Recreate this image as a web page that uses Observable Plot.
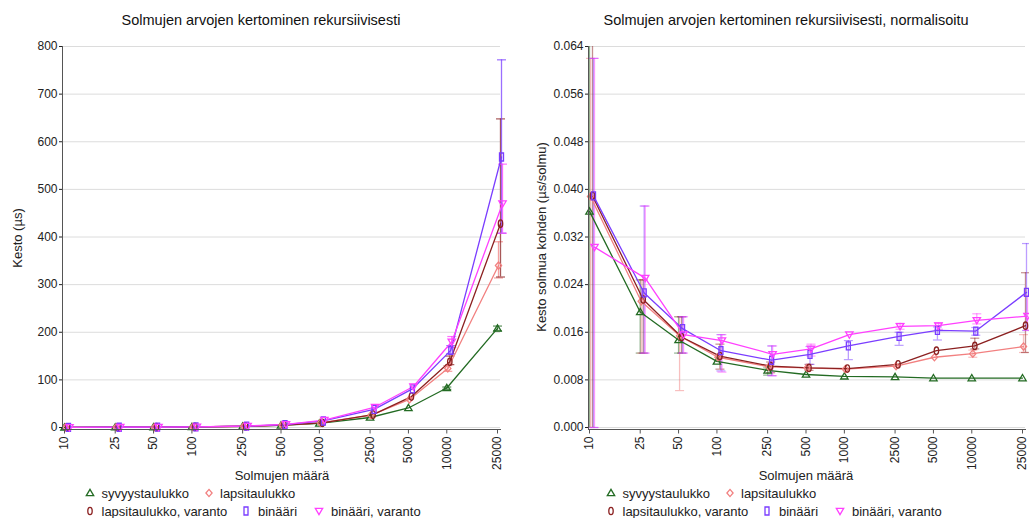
<!DOCTYPE html>
<html><head><meta charset="utf-8">
<script src="https://cdn.jsdelivr.net/npm/d3@7"></script>
<script src="https://cdn.jsdelivr.net/npm/@observablehq/plot@0.6"></script>
<style>
body{margin:0;background:#fff;font-family:"Liberation Sans",Arial,sans-serif;}
#wrap{position:relative;width:1029px;height:518px;overflow:hidden;background:#fff;}
.abs{position:absolute;white-space:nowrap;line-height:1;}
.title{font-size:14.5px;color:#111;transform:translate(-50%,-50%);}
.xlab{font-size:13px;color:#222;transform:translate(-50%,-50%);}
.ylab{font-size:13px;color:#222;transform:translate(-50%,-50%) rotate(-90deg);}
.legtxt{font-size:13px;color:#222;transform:translateY(-50%);}
.legsym{transform:translate(-50%,-50%);}
svg.plot{position:absolute;top:0;}
</style></head><body><div id="wrap"></div>
<script>
// ---------- data ----------
const sizes = [10, 25, 50, 100, 250, 500, 1000, 2500, 5000, 10000, 25000];
const sizeLabels = ["10", "25", "50", "100", "250", "500", "1000", "2500", "5000", "10000", "25000"];
const seriesNames = ["syvyystaulukko", "lapsitaulukko", "lapsitaulukko, varanto", "binääri", "binääri, varanto"];

// left chart: duration (µs)
const durSyvyys   = [0.36, 0.49, 0.74, 1.1, 2.4, 4.4, 8.6, 21, 41, 83, 208];
const durLapsi    = [0.39, 0.53, 0.77, 1.2, 2.6, 5.0, 9.8, 26, 59, 124, 340];
const durLapsiVar = [0.39, 0.54, 0.76, 1.2, 2.6, 5.0, 9.9, 27, 65, 138, 428];
const durBinaari  = [0.39, 0.57, 0.83, 1.3, 2.8, 6.2, 13.7, 38, 81, 162, 568];
const durBinVar   = [0.30, 0.63, 0.78, 1.5, 3.1, 6.6, 15.6, 43, 86, 180, 470];

const durSyvyysLo   = [null, null, null, null, null, null, null, null, null, 80, 203];
const durSyvyysHi   = [null, null, null, null, null, null, null, null, null, 85, 213];
const durLapsiLo    = [null, null, null, null, null, null, null, null, null, 118, 314];
const durLapsiHi    = [null, null, null, null, null, null, null, null, null, 130, 390];
const durLapsiVarLo = [null, null, null, null, null, null, null, null, null, 132, 316];
const durLapsiVarHi = [null, null, null, null, null, null, null, null, null, 150, 648];
const durBinaariLo  = [null, null, null, null, null, null, null, null, null, 155, 408];
const durBinaariHi  = [null, null, null, null, null, null, null, null, null, 172, 772];
const durBinVarLo   = [null, null, null, null, null, null, null, null, null, 168, 408];
const durBinVarHi   = [null, null, null, null, null, null, null, null, null, 191, 553];

// right chart: duration per node (µs/solmu)
const normSyvyys   = [0.0363, 0.0194, 0.0147, 0.0111, 0.0096, 0.0089, 0.0086, 0.0085, 0.0083, 0.0083, 0.0083];
const normLapsi    = [0.0388, 0.0212, 0.0154, 0.0118, 0.0102, 0.0100, 0.0098, 0.0103, 0.0118, 0.0124, 0.0136];
const normLapsiVar = [0.0389, 0.0215, 0.0152, 0.0120, 0.0103, 0.0100, 0.0099, 0.0106, 0.0129, 0.0137, 0.0171];
const normBinaari  = [0.0389, 0.0226, 0.0166, 0.0129, 0.0113, 0.0123, 0.0137, 0.0153, 0.0163, 0.0162, 0.0227];
const normBinVar   = [0.0303, 0.0251, 0.0156, 0.0146, 0.0123, 0.0132, 0.0156, 0.0170, 0.0171, 0.0180, 0.0187];

const normSyvyysLo   = [-0.01, 0.0125, 0.0125, null, 0.0088, null, null, null, null, null, null];
const normSyvyysHi   = [0.08, 0.0248, 0.0186, null, 0.0100, null, null, null, null, null, null];
const normLapsiLo    = [0.0, 0.0125, 0.0062, null, null, null, null, null, null, 0.0118, 0.0126];
const normLapsiHi    = [0.062, 0.0248, 0.0186, null, null, null, null, null, null, 0.0130, 0.0156];
const normLapsiVarLo = [-0.01, 0.0125, 0.0125, 0.0098, 0.0092, 0.0096, null, null, null, 0.0132, 0.0126];
const normLapsiVarHi = [0.08, 0.0248, 0.0186, 0.0140, 0.0110, 0.0106, null, null, null, 0.0150, 0.0260];
const normBinaariLo  = [0.0, 0.0125, 0.0125, 0.0095, 0.0087, 0.0106, 0.0114, 0.0138, 0.0147, 0.0155, 0.0163];
const normBinaariHi  = [0.062, 0.0372, 0.0186, 0.0156, 0.0137, 0.0136, 0.0146, 0.0160, 0.0169, 0.0168, 0.0309];
const normBinVarLo   = [0.0, 0.0125, 0.0125, 0.0093, 0.0087, 0.0120, null, 0.0165, 0.0165, 0.0174, 0.0163];
const normBinVarHi   = [0.062, 0.0372, 0.0186, 0.0156, 0.0137, 0.0140, null, 0.0175, 0.0176, 0.0191, 0.0221];

const leftYTicks  = [0, 100, 200, 300, 400, 500, 600, 700, 800];
const rightYTicks = [0, 0.008, 0.016, 0.024, 0.032, 0.040, 0.048, 0.056, 0.064];

// ---------- styles ----------
const colors = ["#236b23", "#f28080", "#8b2020", "#7a3dff", "#ff40ff"];
const dxs = [0, 1, 3, 4, 5];
const k = 0.5523;
const symbols = [
  {draw(c){c.moveTo(0,-3.6);c.lineTo(3.7,2.7);c.lineTo(-3.7,2.7);c.closePath();}},
  {draw(c){c.moveTo(0,-3.6);c.lineTo(3.1,0);c.lineTo(0,3.6);c.lineTo(-3.1,0);c.closePath();}},
  {draw(c){const rx=2.2, ry=3.7; c.moveTo(0,-ry); c.bezierCurveTo(k*rx,-ry,rx,-k*ry,rx,0); c.bezierCurveTo(rx,k*ry,k*rx,ry,0,ry); c.bezierCurveTo(-k*rx,ry,-rx,k*ry,-rx,0); c.bezierCurveTo(-rx,-k*ry,-k*rx,-ry,0,-ry); c.closePath();}},
  {draw(c){c.rect(-2,-4,4,8);}},
  {draw(c){c.moveTo(0,3.6);c.lineTo(3.7,-2.7);c.lineTo(-3.7,-2.7);c.closePath();}}
];
const capSym = {draw(c){c.moveTo(-4.5,0);c.lineTo(4.5,0);}};
const xTickSym = {draw(c){c.moveTo(0,0);c.lineTo(0,4);}};

function rows(vals) { return sizes.map((n, i) => ({n, v: vals[i]})); }
function errRows(lo, hi) {
  return sizes.map((n, i) => ({n, lo: lo[i], hi: hi[i]})).filter(d => d.lo != null && d.hi != null);
}
const xTickRows = sizes.map((n, i) => ({n, label: sizeLabels[i]}));

function makeChart(cfg) {
  const [y0, y1] = cfg.yDomain;
  const inRange = v => v >= y0 && v <= y1;
  const marks = [
    Plot.gridY(cfg.yTicks, {stroke: "#dcdcdc", strokeOpacity: 1}),
  ];
  cfg.values.forEach((vals, s) => {
    const er = errRows(cfg.lows[s], cfg.highs[s]);
    marks.push(Plot.ruleX(er, {x: "n", y1: "lo", y2: "hi", stroke: colors[s], strokeOpacity: cfg.errOpacity, strokeWidth: 1.3, dx: dxs[s]}));
    marks.push(Plot.dot(er.filter(d => inRange(d.lo)), {x: "n", y: "lo", symbol: capSym, stroke: colors[s], strokeOpacity: cfg.errOpacity, strokeWidth: 1.2, fill: "none", dx: dxs[s]}));
    marks.push(Plot.dot(er.filter(d => inRange(d.hi)), {x: "n", y: "hi", symbol: capSym, stroke: colors[s], strokeOpacity: cfg.errOpacity, strokeWidth: 1.2, fill: "none", dx: dxs[s]}));
  });
  cfg.values.forEach((vals, s) => {
    marks.push(Plot.line(rows(vals), {x: "n", y: "v", stroke: colors[s], strokeWidth: 1.3, dx: dxs[s]}));
  });
  cfg.values.forEach((vals, s) => {
    marks.push(Plot.dot(rows(vals), {x: "n", y: "v", symbol: symbols[s], stroke: colors[s], strokeWidth: 1.3, fill: "none", dx: dxs[s]}));
  });
  marks.push(Plot.frame({anchor: "left", stroke: "#555"}));
  marks.push(Plot.frame({anchor: "bottom", stroke: "#555"}));
  marks.push(Plot.axisY(cfg.yTicks, {tickSize: 3, tickPadding: 2, tickFormat: cfg.yFormat, fontSize: 12, label: null, color: "#222"}));
  marks.push(Plot.dot(xTickRows, {x: "n", frameAnchor: "bottom", symbol: xTickSym, stroke: "#555", strokeWidth: 1, fill: "none"}));
  marks.push(Plot.text(xTickRows, {x: "n", frameAnchor: "bottom", text: "label", rotate: -90, textAnchor: "end", lineAnchor: "middle", dy: 7, fontSize: 12, fill: "#222"}));
  const svg = Plot.plot({
    width: cfg.width, height: 470,
    marginTop: 46, marginBottom: 41, marginLeft: cfg.marginLeft, marginRight: cfg.marginRight,
    style: {fontFamily: '"Liberation Sans", Arial, sans-serif', background: "transparent", overflow: "visible"},
    x: {type: "log", domain: [10, 25000], insetLeft: cfg.insetLeft, insetRight: cfg.insetRight, axis: null},
    y: {domain: cfg.yDomain, insetBottom: 2, clamp: true},
    marks
  });
  svg.classList.add("plot");
  svg.style.left = cfg.left + "px";
  return svg;
}

const wrap = document.getElementById("wrap");
wrap.appendChild(makeChart({
  left: 0, width: 514, marginLeft: 62, marginRight: 14, insetLeft: 2, insetRight: 3, errOpacity: 0.75,
  yDomain: [0, 800], yTicks: leftYTicks, yFormat: d => String(d),
  values: [durSyvyys, durLapsi, durLapsiVar, durBinaari, durBinVar],
  lows: [durSyvyysLo, durLapsiLo, durLapsiVarLo, durBinaariLo, durBinVarLo],
  highs: [durSyvyysHi, durLapsiHi, durLapsiVarHi, durBinaariHi, durBinVarHi]
}));
wrap.appendChild(makeChart({
  left: 514, width: 515, marginLeft: 74, marginRight: 4, insetLeft: 1, insetRight: 3, errOpacity: 0.5,
  yDomain: [0, 0.064], yTicks: rightYTicks, yFormat: d3.format(".3f"),
  values: [normSyvyys, normLapsi, normLapsiVar, normBinaari, normBinVar],
  lows: [normSyvyysLo, normLapsiLo, normLapsiVarLo, normBinaariLo, normBinVarLo],
  highs: [normSyvyysHi, normLapsiHi, normLapsiVarHi, normBinaariHi, normBinVarHi]
}));

function addText(cls, text, x, y) {
  const d = document.createElement("div");
  d.className = "abs " + cls;
  d.textContent = text;
  d.style.left = x + "px"; d.style.top = y + "px";
  wrap.appendChild(d);
}
function addSym(s, x, y) {
  const p = d3.path(); symbols[s].draw(p);
  const d = document.createElement("div");
  d.className = "abs legsym";
  d.style.left = x + "px"; d.style.top = y + "px";
  d.innerHTML = `<svg width="10" height="10" viewBox="-5 -5 10 10" style="display:block"><path d="${p.toString()}" fill="none" stroke="${colors[s]}" stroke-width="1.3"/></svg>`;
  wrap.appendChild(d);
}

addText("title", "Solmujen arvojen kertominen rekursiivisesti", 261, 20);
addText("title", "Solmujen arvojen kertominen rekursiivisesti, normalisoitu", 786, 20);
addText("ylab", "Kesto (µs)", 17, 238);
addText("ylab", "Kesto solmua kohden (µs/solmu)", 541, 237);
addText("xlab", "Solmujen määrä", 282, 475);
addText("xlab", "Solmujen määrä", 806, 475);

const legendLayout = [
  {s: 0, mx: 90, tx: 101.5, y: 493},
  {s: 1, mx: 208.5, tx: 220, y: 493},
  {s: 2, mx: 90, tx: 101.5, y: 511},
  {s: 3, mx: 246, tx: 258, y: 511},
  {s: 4, mx: 318.5, tx: 331, y: 511}
];
[0, 521].forEach(off => {
  legendLayout.forEach(L => {
    addSym(L.s, L.mx + off, L.y);
    addText("legtxt", seriesNames[L.s], L.tx + off, L.y);
  });
});
</script></body></html>
